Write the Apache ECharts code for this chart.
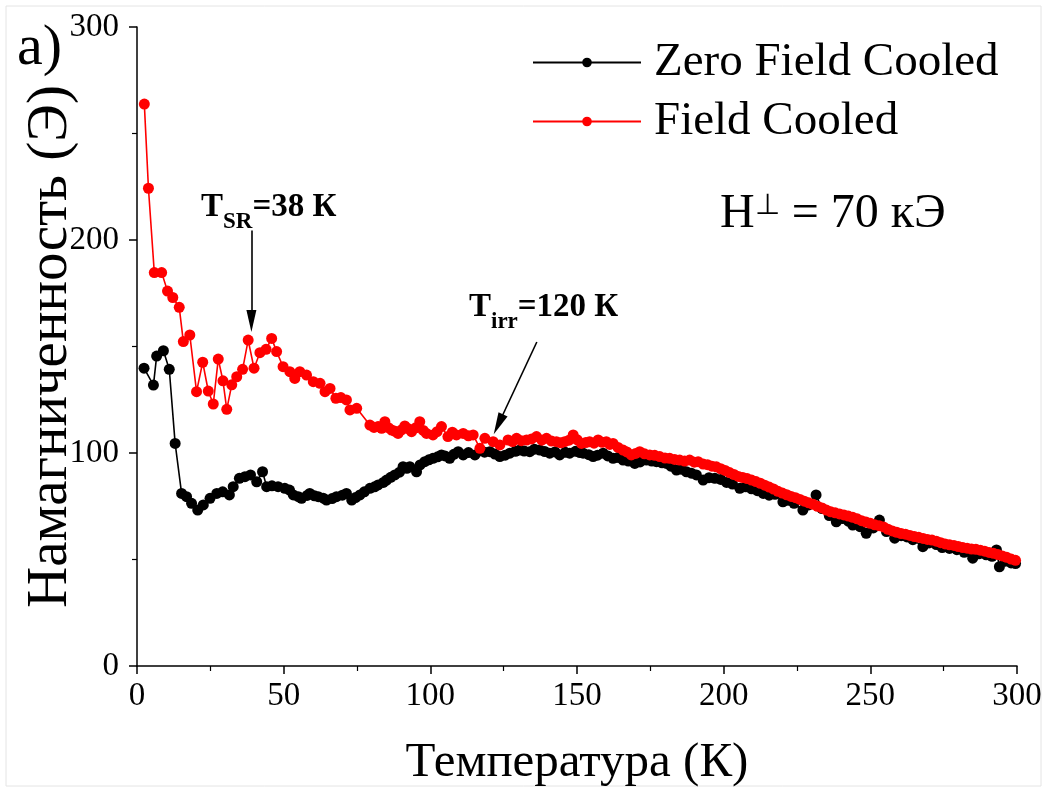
<!DOCTYPE html>
<html>
<head>
<meta charset="utf-8">
<script src="https://cdn.jsdelivr.net/npm/echarts@6/dist/echarts.min.js"></script>
<style>
  html, body { margin: 0; padding: 0; background: #fff; }
  #chart { width: 1047px; height: 791px; }
</style>
</head>
<body>
<div id="chart"></div>
<script>
// ZFC (black) — temperature, K
var zfcTemp = [
  2.4, 5.6, 6.7, 9.0, 11.0, 13.0, 15.2, 16.9, 18.6, 20.7,
  22.6, 24.9, 27.2, 29.2, 31.5, 32.8, 34.9, 36.8, 38.7, 40.8,
  42.8, 44.2, 46.0, 48.1, 50.4, 52.0, 53.3, 55.0, 56.1, 58.0,
  58.9, 60.5, 61.8, 63.5, 64.6, 66.5, 68.0, 70.0, 71.4, 73.2,
  74.5, 76.0, 77.5, 79.4, 81.0, 82.2, 84.0, 85.1, 86.5, 87.9,
  89.5, 90.7, 92.0, 93.0, 95.3, 96.5, 98.1, 99.5, 100.9, 102.5,
  103.8, 105.0, 106.6, 108.0, 109.5, 111.2, 113.0, 115.2, 117.0, 118.5,
  120.3, 122.0, 123.7, 125.5, 127.1, 129.0, 130.5, 132.0, 133.9, 135.5,
  137.3, 139.0, 140.7, 142.5, 144.1, 146.0, 147.5, 149.5, 151.0, 152.1,
  154.0, 155.5, 157.0, 158.9, 160.5, 162.3, 164.0, 165.7, 167.5, 169.7,
  171.5, 173.7, 175.5, 177.1, 179.0, 180.5, 182.0, 183.9, 185.5, 187.3,
  189.0, 190.7, 193.0, 195.0, 197.0, 199.0, 201.0, 203.0, 205.5, 207.5,
  209.5, 211.5, 213.5, 215.5, 217.5, 220.2, 222.0, 224.0, 227.0, 229.0,
  231.5, 233.5, 236.0, 238.4, 240.5, 242.5, 244.0, 246.5, 248.6, 251.0,
  253.1, 255.5, 258.3, 260.5, 262.5, 264.5, 267.9, 270.0, 272.5, 274.5,
  277.0, 279.5, 282.0, 284.9, 287.0, 289.5, 291.5, 293.0, 294.0, 296.0,
  298.0, 299.5
];
// ZFC magnetization
var zfcMag = [
  139.8, 131.9, 145.5, 148.0, 139.3, 104.5, 81.0, 79.5, 76.4, 73.2,
  75.6, 78.7, 81.0, 81.8, 80.3, 84.2, 88.1, 88.9, 89.7, 86.5,
  91.2, 84.2, 84.6, 84.2, 83.4, 82.6, 80.3, 79.5, 78.7, 80.1,
  81.0, 79.9, 79.5, 78.8, 77.9, 78.6, 79.5, 80.2, 81.0, 77.9,
  79.1, 80.3, 81.8, 83.4, 84.1, 85.0, 86.2, 87.3, 88.6, 89.7,
  91.0, 93.6, 92.8, 93.6, 91.2, 94.4, 95.9, 96.8, 97.5, 98.2,
  99.1, 98.6, 97.5, 99.4, 100.6, 99.1, 100.2, 99.1, 101.0, 100.4,
  100.6, 99.5, 98.3, 99.0, 99.9, 100.8, 101.4, 100.9, 100.6, 101.8,
  101.4, 100.7, 99.9, 100.5, 99.1, 100.3, 99.9, 100.8, 100.2, 99.9,
  99.2, 98.3, 99.0, 99.9, 98.6, 97.5, 97.9, 96.7, 96.2, 95.1,
  95.8, 96.7, 96.2, 95.9, 95.4, 95.1, 93.8, 92.0, 92.4, 91.2,
  90.5, 89.7, 87.3, 88.4, 88.1, 87.6, 86.2, 85.4, 83.4, 84.1,
  83.2, 82.3, 81.0, 80.2, 80.6, 77.1, 77.8, 76.4, 73.2, 75.6,
  80.3, 73.9, 70.6, 67.7, 69.2, 68.0, 66.2, 65.4, 62.3, 64.8,
  68.5, 63.1, 60.0, 61.2, 60.6, 59.3, 56.0, 57.8, 57.0, 55.6,
  55.2, 54.6, 53.4, 50.6, 52.7, 52.2, 51.5, 54.5, 46.6, 49.2,
  48.4, 48.1
];
// FC (red) — temperature, K
var fcTemp = [
  2.5, 3.9, 5.9, 8.4, 10.4, 12.2, 14.4, 15.8, 18.0, 20.3,
  22.4, 24.3, 26.0, 27.7, 29.3, 30.6, 32.3, 34.0, 36.0, 37.9,
  39.9, 41.9, 44.0, 45.9, 47.6, 49.8, 52.1, 53.8, 55.5, 57.8,
  60.1, 62.4, 64.1, 65.8, 67.8, 69.5, 71.4, 72.6, 74.9, 79.4,
  80.8, 82.2, 83.4, 84.5, 85.7, 86.8, 88.0, 89.0, 90.2, 91.3,
  92.5, 93.6, 95.0, 96.4, 97.6, 98.7, 100.9, 102.3, 103.8, 106.0,
  107.5, 108.9, 111.2, 113.0, 114.6, 116.9, 118.6, 121.4, 123.7, 126.5,
  128.0, 129.4, 131.0, 132.8, 134.5, 136.2, 138.0, 139.6, 141.3, 143.0,
  144.5, 145.8, 147.3, 148.7, 150.1, 151.5, 153.0, 154.3, 155.8, 157.2,
  158.6, 160.0, 161.2, 162.3, 164.0, 165.7, 167.0, 168.5, 170.0, 171.4,
  173.0, 174.8, 176.5, 178.2, 180.0, 181.6, 183.3, 185.0, 186.7, 188.4,
  190.0, 191.3, 193.0, 194.5, 196.0, 197.5, 199.0, 200.5, 202.0, 203.5,
  205.0, 206.5, 208.0, 209.5, 211.0, 212.5, 214.0, 215.5, 217.0, 218.5,
  220.0, 221.5, 223.0, 224.5, 226.0, 227.5, 229.0, 230.5, 232.0, 233.5,
  235.0, 236.5, 238.0, 239.5, 241.0, 242.5, 244.0, 245.5, 247.0, 248.5,
  250.0, 251.5, 253.0, 254.5, 256.0, 257.5, 259.0, 260.5, 262.0, 263.5,
  265.0, 266.5, 268.0, 269.5, 271.0, 272.5, 274.0, 275.5, 277.0, 278.5,
  280.0, 281.5, 283.0, 284.5, 286.0, 287.5, 289.0, 290.5, 292.0, 293.5,
  295.0, 296.5, 298.0, 299.5
];
// FC magnetization
var fcMag = [
  263.8, 224.3, 184.7, 184.7, 176.0, 173.0, 168.4, 152.3, 155.4, 128.8,
  142.6, 129.1, 123.0, 144.1, 133.9, 120.5, 132.0, 135.8, 139.3, 153.0,
  139.8, 147.1, 148.7, 153.8, 147.6, 140.5, 138.2, 135.0, 138.2, 136.6,
  133.5, 132.7, 128.8, 130.3, 125.7, 126.0, 124.9, 120.2, 121.0, 113.1,
  112.0, 112.4, 111.6, 114.7, 111.9, 110.8, 110.2, 109.2, 110.9, 112.7,
  111.4, 110.0, 111.8, 114.7, 110.6, 109.2, 108.5, 110.0, 112.4, 107.7,
  109.8, 108.5, 109.2, 108.1, 108.5, 102.2, 106.9, 105.3, 103.8, 106.1,
  105.4, 106.9, 105.8, 106.1, 106.6, 107.7, 106.0, 106.9, 105.6, 105.3,
  104.8, 105.3, 106.0, 108.5, 106.2, 104.5, 104.9, 105.3, 104.6, 106.1,
  105.0, 105.3, 104.0, 104.5, 102.6, 101.4, 100.5, 99.1, 99.8, 100.6,
  99.6, 99.1, 98.9, 98.3, 97.6, 97.5, 97.0, 96.7, 96.2, 96.7,
  95.7, 95.9, 94.8, 94.5, 93.8, 93.5, 92.6, 91.8, 90.8, 89.9,
  89.0, 88.5, 88.0, 87.3, 86.6, 85.8, 84.9, 84.0, 83.1, 82.0,
  81.2, 80.4, 79.6, 79.0, 78.2, 77.4, 76.6, 75.9, 75.0, 74.2,
  73.2, 72.4, 71.9, 71.4, 70.9, 70.4, 69.8, 69.1, 68.2, 67.6,
  67.0, 66.3, 65.9, 65.3, 64.2, 63.4, 62.8, 62.2, 61.9, 61.3,
  60.8, 60.4, 59.9, 59.4, 59.1, 58.6, 57.9, 57.3, 56.9, 56.6,
  56.1, 55.6, 55.3, 54.9, 54.8, 54.4, 53.9, 53.3, 52.9, 52.3,
  51.7, 51.0, 50.2, 49.6
];
var seriesNames = ["Zero Field Cooled", "Field Cooled"];
// annotation arrows, [T, M] start -> end
var arrowSR = [[39, 204.5], [39, 162]];
var arrowIrr = [[136.3, 152.1], [123.2, 113.5]];

var serif = "'Liberation Serif', 'Times New Roman', serif";

function pairs(xs, ys) {
  return xs.map(function (x, i) { return [x, ys[i]]; });
}

function arrow(a) {
  return [
    { coord: a[0], symbol: "none", symbolSize: 1 },
    { coord: a[1], symbol: "triangle", symbolSize: [10, 22] }
  ];
}

var subRich = {
  b: { fontFamily: serif, fontSize: 33, fontWeight: "bold", verticalAlign: "top", fill: "#000" },
  s: { fontFamily: serif, fontSize: 23, fontWeight: "bold", verticalAlign: "top", padding: [20, 0, 0, 0], fill: "#000" }
};

var chart = echarts.init(document.getElementById("chart"));
var option = {
  animation: false,
  backgroundColor: "#fff",
  grid: { left: 137, right: 30, top: 27, bottom: 125, containLabel: false, outerBoundsMode: "none" },
  legend: {
    orient: "vertical",
    left: 532,
    top: 39,
    padding: 0,
    itemWidth: 108,
    itemHeight: 12,
    itemGap: 12,
    data: seriesNames,
    textStyle: {
      fontFamily: serif,
      fontSize: 47,
      color: "#000",
      padding: [0, 0, 0, 8]
    }
  },
  xAxis: {
    type: "value",
    min: 0,
    max: 300,
    interval: 50,
    name: "Температура (К)",
    nameLocation: "middle",
    nameGap: 73,
    nameMoveOverlap: false,
    nameTextStyle: { fontFamily: serif, fontSize: 49, color: "#000" },
    axisLine: { onZero: false, lineStyle: { color: "#000", width: 1.5 } },
    axisTick: { inside: false, length: 8, lineStyle: { color: "#000", width: 1.5 } },
    minorTick: { show: true, splitNumber: 2, length: 5, lineStyle: { color: "#000", width: 1.2 } },
    axisLabel: { fontFamily: serif, fontSize: 33, color: "#000", margin: 14 },
    splitLine: { show: false }
  },
  yAxis: {
    type: "value",
    min: 0,
    max: 300,
    interval: 100,
    name: "Намагниченность (Э)",
    nameLocation: "middle",
    nameGap: 57,
    nameMoveOverlap: false,
    nameTextStyle: { fontFamily: serif, fontSize: 57, color: "#000" },
    axisLine: { show: true, onZero: false, lineStyle: { color: "#000", width: 1.5 } },
    axisTick: { show: true, inside: false, length: 8, lineStyle: { color: "#000", width: 1.5 } },
    minorTick: { show: true, splitNumber: 2, length: 5, lineStyle: { color: "#000", width: 1.2 } },
    axisLabel: { fontFamily: serif, fontSize: 33, color: "#000", margin: 18 },
    splitLine: { show: false }
  },
  series: [
    {
      name: seriesNames[0],
      type: "line",
      data: pairs(zfcTemp, zfcMag),
      symbol: "circle",
      symbolSize: 11,
      itemStyle: { color: "#000" },
      lineStyle: { color: "#000", width: 1.6 },
      z: 2
    },
    {
      name: seriesNames[1],
      type: "line",
      data: pairs(fcTemp, fcMag),
      symbol: "circle",
      symbolSize: 11,
      itemStyle: { color: "#f00" },
      lineStyle: { color: "#f00", width: 1.6 },
      z: 3,
      markLine: {
        silent: true,
        symbol: ["none", "triangle"],
        symbolSize: 16,
        label: { show: false },
        lineStyle: { color: "#000", width: 1.6, type: "solid" },
        data: [arrow(arrowSR), arrow(arrowIrr)]
      }
    }
  ],
  graphic: [
    {
      type: "rect",
      shape: { x: 6, y: 6, width: 1035, height: 780 },
      style: { fill: "none", stroke: "#e4e4e4", lineWidth: 1 },
      silent: true
    },
    {
      type: "text",
      x: 17,
      y: 20,
      style: { text: "a)", font: "58px " + serif, fill: "#000", verticalAlign: "top" }
    },
    {
      type: "text",
      x: 720,
      y: 190,
      style: {
        text: "{m|H}{s|⊥}{m| = 70 кЭ}",
        fill: "#000",
        verticalAlign: "top",
        rich: {
          m: { fontFamily: serif, fontSize: 48, verticalAlign: "top", fill: "#000" },
          s: { fontFamily: serif, fontSize: 29, verticalAlign: "top", padding: [2, 0, 0, 0], fill: "#000" }
        }
      }
    },
    {
      type: "text",
      x: 201,
      y: 191,
      style: { text: "{b|T}{s|SR}{b|=38 К}", fill: "#000", verticalAlign: "top", rich: subRich }
    },
    {
      type: "text",
      x: 469,
      y: 291,
      style: { text: "{b|T}{s|irr}{b|=120 К}", fill: "#000", verticalAlign: "top", rich: subRich }
    }
  ]
};
chart.setOption(option);
</script>
</body>
</html>
